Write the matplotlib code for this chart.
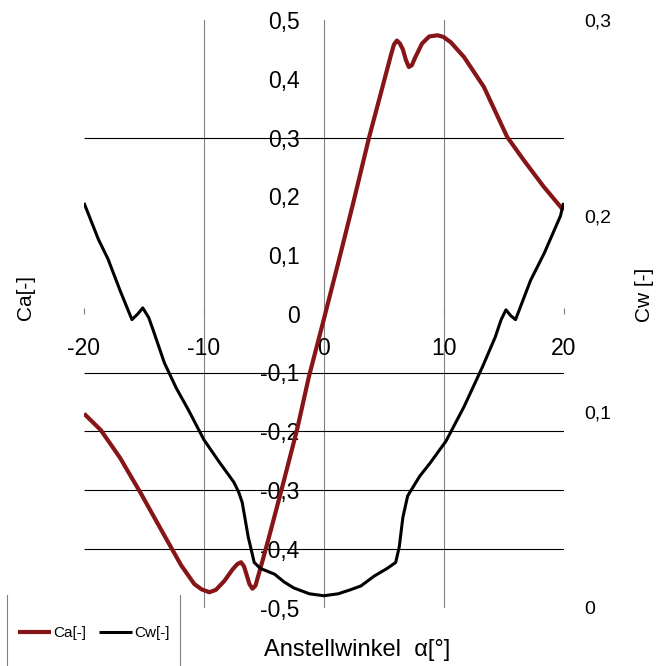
import matplotlib

matplotlib.use("Agg")
import matplotlib.pyplot as plt
from matplotlib.lines import Line2D

plt.rcParams["font.family"] = ["Liberation Sans", "DejaVu Sans"]

# angle of attack [deg] and lift coefficient Ca
alpha_ca = [-20, -18.6, -17, -15.25, -13.5, -11.9, -10.8, -10.2, -9.55, -9,
            -8.3, -7.6, -7.2, -6.9, -6.65, -6.2, -5.95, -5.7, -5.1, -4.5,
            -3.4, -2.2, -1.25, 0, 1.25, 2.5, 3.78, 4.9, 5.6, 5.85, 6.1, 6.35,
            6.6, 6.85, 7.1, 7.35, 7.6, 8.2, 8.8, 9.5, 10.0, 10.6, 11.7,
            13.36, 15.3, 16.7, 18.36, 20]
ca = [-0.17, -0.198, -0.245, -0.306, -0.37, -0.428, -0.46, -0.469, -0.474,
      -0.47, -0.455, -0.435, -0.426, -0.423, -0.43, -0.46, -0.468, -0.463,
      -0.42, -0.375, -0.29, -0.195, -0.108, -0.01, 0.09, 0.192, 0.3, 0.386,
      0.44, 0.458, 0.465, 0.46, 0.45, 0.432, 0.42, 0.423, 0.435, 0.46,
      0.472, 0.474, 0.471, 0.462, 0.437, 0.386, 0.301, 0.261, 0.216, 0.176]

# angle of attack [deg] and drag coefficient Cw
alpha_cw = [-20, -18.8, -18, -17, -16, -15.5, -15.1, -14.6, -14.25, -13.3,
            -12.3, -11.3, -10, -8.8, -7.5, -7.1, -6.8, -6.3, -5.8, -5.3, -4.1,
            -3.3, -2.5, -1.2, 0, 1.2, 2.2, 3.1, 4.2, 5.3, 6, 6.3, 6.6, 7.0,
            7.4, 8, 8.9, 10.2, 11.7, 13.25, 14.3, 14.8, 15.2, 15.6, 16, 17.25,
            18.4, 19.75, 20]
cw = [0.2066, 0.188, 0.178, 0.162, 0.147, 0.15, 0.153, 0.148, 0.142, 0.125,
      0.112, 0.101, 0.0857, 0.075, 0.064, 0.059, 0.0536, 0.036, 0.023, 0.02,
      0.017, 0.013, 0.010, 0.007, 0.006, 0.007, 0.009, 0.011, 0.016, 0.02,
      0.023, 0.031, 0.046, 0.057, 0.061, 0.067, 0.074, 0.085, 0.1025, 0.123,
      0.138, 0.147, 0.152, 0.149, 0.147, 0.167, 0.181, 0.2, 0.2066]

x_ticks = [-20, -10, 0, 10, 20]
ca_ticks = [0.5, 0.4, 0.3, 0.2, 0.1, 0, -0.1, -0.2, -0.3, -0.4, -0.5]
cw_ticks = [0, 0.1, 0.2, 0.3]
ca_lines = [0.3, -0.1, -0.2, -0.3, -0.4]


def de(v):
    return f"{v:g}".replace(".", ",")


fig = plt.figure(figsize=(6.6, 6.66), dpi=100)
ax = fig.add_axes([84 / 660, 1 - 607.5 / 666, 479.5 / 660, 587.5 / 666])
ax2 = ax.twinx()

ax.set_xlim(-20, 20)
ax.set_ylim(-0.5, 0.5)
ax2.set_ylim(0, 0.3)

for s in ax.spines.values():
    s.set_visible(False)
for s in ax2.spines.values():
    s.set_visible(False)
ax.spines["left"].set_position(("data", 0))
ax.spines["bottom"].set_position(("data", 0))

# grid
for xv in [-10, 0, 10]:
    ax.axvline(xv, color="#808080", lw=0.8, zorder=0)
ax.hlines(ca_lines, -20, 20, color="black", lw=0.8, zorder=0)

l1, = ax.plot(alpha_ca, ca, color="#861518", lw=3.0, label="Ca[-]",
              solid_joinstyle="round", solid_capstyle="butt")
l2, = ax2.plot(alpha_cw, cw, color="black", lw=2.2, label="Cw[-]",
               solid_joinstyle="round", solid_capstyle="butt")

ax.set_xticks(x_ticks)
ax.set_xticklabels([de(v) for v in x_ticks])
ax.tick_params(axis="x", direction="in", length=4.5, width=0.8,
               color="#808080", pad=17, labelsize=16.5)

ax.set_yticks(ca_ticks)
ax.set_yticklabels([de(v) for v in ca_ticks])
ax.tick_params(axis="y", length=0, pad=17.5, labelsize=16.5)

ax2.set_yticks(cw_ticks)
ax2.set_yticklabels([de(v) for v in cw_ticks])
ax2.tick_params(axis="y", length=0, pad=15, labelsize=14)

fig.text(25 / 660, 1 - 298 / 666, "Ca[-]", rotation=90, ha="center",
         va="center", fontsize=15)
fig.text(645 / 660, 1 - 295 / 666, "Cw [-]", rotation=90, ha="center",
         va="center", fontsize=15)
fig.text(357 / 660, 1 - 650 / 666, "Anstellwinkel  α[°]", ha="center",
         va="center", fontsize=17)

fig.legend(handles=[l1, l2], loc="center left",
           bbox_to_anchor=(10 / 660, 1 - 633 / 666),
           bbox_transform=fig.transFigure, ncol=2, frameon=False,
           fontsize=11, borderpad=0, handlelength=2.2, handletextpad=0.15,
           columnspacing=0.8)
for xp in [7, 180]:
    fig.add_artist(Line2D([xp / 660, xp / 660], [0, 1 - 595 / 666],
                          transform=fig.transFigure, color="#808080", lw=0.8))

fig.savefig("out.png", dpi=100)
